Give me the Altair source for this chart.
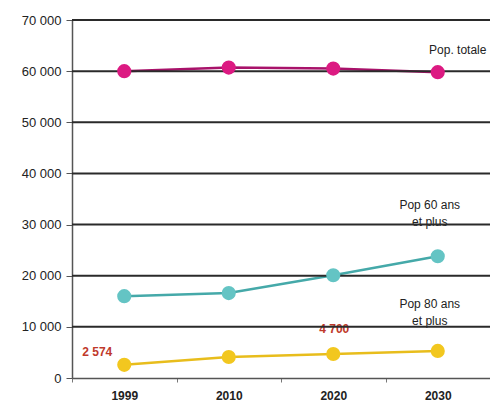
import altair as alt
import pandas as pd

years = ["1999", "2010", "2020", "2030"]
pop_totale = [60000, 60700, 60500, 59800]
pop_60 = [16000, 16600, 20100, 23800]
pop_80 = [2574, 4100, 4700, 5300]
grid_values = [10000, 20000, 30000, 40000, 50000, 60000, 70000]

series_names = ["Pop. totale", "Pop 60 ans et plus", "Pop 80 ans et plus"]
line_colors = ["#a8126a", "#45a9a9", "#e8bd1c"]
point_colors = ["#dc1a82", "#64c4c4", "#f2c71f"]

rows = []
for name, vals in zip(series_names, [pop_totale, pop_60, pop_80]):
    for y, v in zip(years, vals):
        rows.append({"annee": y, "valeur": v, "serie": name})
df = pd.DataFrame(rows)

lab_t = pd.DataFrame([{"annee": "2030", "valeur": pop_totale[3], "txt": "Pop. totale"}])
lab_a = pd.DataFrame([{"annee": "2030", "valeur": pop_60[3], "txt": "Pop 60 ans\net plus"}])
lab_b = pd.DataFrame([{"annee": "2030", "valeur": pop_80[3], "txt": "Pop 80 ans\net plus"}])
vlab1 = pd.DataFrame([{"annee": "1999", "valeur": pop_80[0], "txt": "2 574"}])
vlab2 = pd.DataFrame([{"annee": "2020", "valeur": pop_80[2], "txt": "4 700"}])
grid = pd.DataFrame({"v": grid_values})

xenc = alt.X("annee:O", scale=alt.Scale(type="band", domain=years, paddingInner=0, paddingOuter=0),
             bandPosition=0.5,
             axis=alt.Axis(title=None, tickBand="extent", labelAngle=0, labelFont="Liberation Sans",
                           labelFontSize=12, labelColor="#222", labelFontWeight="bold",
                           domainColor="#555", domainWidth=1.5, tickColor="#777", tickSize=4,
                           labelPadding=8, grid=False))
yscale = alt.Scale(domain=[0, 70000], nice=False)
yenc = alt.Y("valeur:Q", scale=yscale,
             axis=alt.Axis(title=None, values=[0] + grid_values, grid=False,
                           labelExpr="replace(format(datum.value, ','), ',', ' ')",
                           labelFont="Liberation Sans", labelFontSize=13, labelColor="#222",
                           domainColor="#555", domainWidth=1.5, tickColor="#555", tickSize=6,
                           labelPadding=5))

color_line = alt.Color("serie:N", scale=alt.Scale(domain=series_names, range=line_colors), legend=None)
color_pt = alt.Color("serie:N", scale=alt.Scale(domain=series_names, range=point_colors), legend=None)

base = alt.Chart(df)
lines = base.mark_line(strokeWidth=2.5).encode(x=xenc, y=yenc, color=color_line)
points = base.mark_circle(size=200, opacity=1).encode(x=xenc, y=yenc, color=color_pt)

rules = alt.Chart(grid).mark_rule(color="#2a2a2a", strokeWidth=2).encode(
    y=alt.Y("v:Q", scale=yscale)
)

txt_style = dict(font="Liberation Sans", fontSize=12, color="#222", align="center")
lab_total = alt.Chart(lab_t).mark_text(dx=20, dy=-22, **txt_style).encode(
    x=xenc, y=yenc, text="txt:N")
lab_60 = alt.Chart(lab_a).mark_text(dx=-8, dy=-56, baseline="top", lineBreak="\n",
                                    lineHeight=17, **txt_style).encode(x=xenc, y=yenc, text="txt:N")
lab_80 = alt.Chart(lab_b).mark_text(dx=-8, dy=-52, baseline="top", lineBreak="\n",
                                    lineHeight=17, **txt_style).encode(x=xenc, y=yenc, text="txt:N")
vl1 = alt.Chart(vlab1).mark_text(
    font="Liberation Sans", fontSize=12, color="#c0392b", fontWeight="bold", dx=-27, dy=-13
).encode(x=xenc, y=yenc, text="txt:N")
vl2 = alt.Chart(vlab2).mark_text(
    font="Liberation Sans", fontSize=12, color="#c0392b", fontWeight="bold", dx=1, dy=-25
).encode(x=xenc, y=yenc, text="txt:N")

chart = alt.layer(lines, lab_total, lab_60, lab_80, vl1, vl2, rules, points).resolve_scale(
    color="independent"
).properties(
    width=418, height=358,
    autosize=alt.AutoSizeParams(type="none"),
    padding={"left": 72, "top": 20, "right": 0, "bottom": 30},
).configure_view(stroke=None).configure(background="white")

chart.save("out.html", embed_options={"renderer": "svg", "actions": False})
